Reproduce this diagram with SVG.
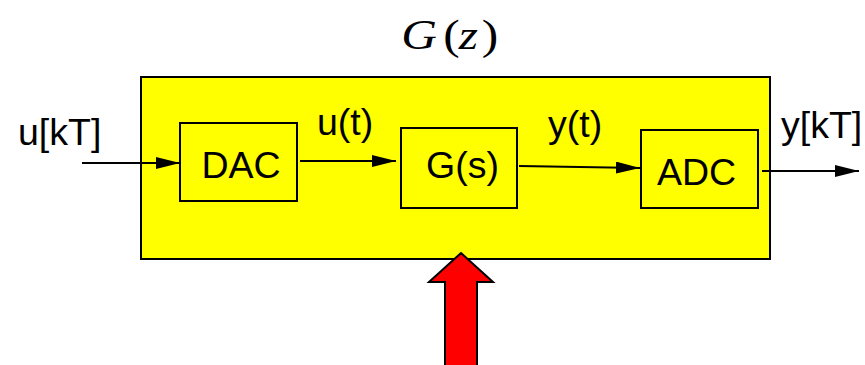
<svg xmlns="http://www.w3.org/2000/svg" width="865" height="365" viewBox="0 0 865 365">
<style>
.box{fill:#ffff00;stroke:#000;stroke-width:2}
.lbl{font-family:"Liberation Sans",Arial,sans-serif;font-size:37.5px;fill:#000}
.wire{stroke:#000;stroke-width:2;fill:none;marker-end:url(#ah)}
.math{font-family:"Liberation Serif","Times New Roman",serif;font-size:43px;fill:#000}
.it{font-style:italic}
</style>
<defs>
<marker id="ah" viewBox="0 0 24 12" refX="24" refY="6" markerWidth="24" markerHeight="12" markerUnits="userSpaceOnUse" orient="auto">
<path d="M0,0 L24,6 L0,12 Z" fill="#000"/>
</marker>
</defs>
<rect width="865" height="365" fill="#fff"/>
<g id="title">
<text class="math" transform="translate(0,49) scale(1.15,1)" y="0"><tspan class="it" x="349">G</tspan><tspan x="385.5">(</tspan><tspan class="it" x="399">z</tspan><tspan x="419">)</tspan></text>
</g>
<g id="system">
<rect class="box" x="141" y="77" width="629" height="182"/>
</g>
<g id="dac">
<rect class="box" x="180" y="123" width="117" height="78"/>
<text class="lbl" x="241" y="178" text-anchor="middle">DAC</text>
</g>
<g id="gs">
<rect class="box" x="401" y="128" width="116" height="80"/>
<text class="lbl" x="462.5" y="178" text-anchor="middle">G(s)</text>
</g>
<g id="adc">
<rect class="box" x="641" y="130" width="117" height="78"/>
<text class="lbl" x="696.5" y="185" text-anchor="middle">ADC</text>
</g>
<g id="disturbance">
<path d="M461,253 L493,282 L477,282 L477,366 L445,366 L445,282 L429,282 Z" fill="#ff0000" stroke="#000" stroke-width="2" stroke-linejoin="miter"/>
</g>
<g id="connectors">
<line class="wire" x1="82" y1="163" x2="180" y2="163"/>
<line class="wire" x1="300" y1="161" x2="396" y2="161"/>
<line class="wire" x1="519" y1="166" x2="640" y2="168"/>
<line class="wire" x1="762" y1="171" x2="859" y2="171"/>
</g>
<g id="labels">
<text class="lbl" x="18" y="145">u[kT]</text>
<text class="lbl" x="317" y="135">u(t)</text>
<text class="lbl" x="548" y="137">y(t)</text>
<text class="lbl" x="781" y="138">y[kT]</text>
</g>
</svg>
